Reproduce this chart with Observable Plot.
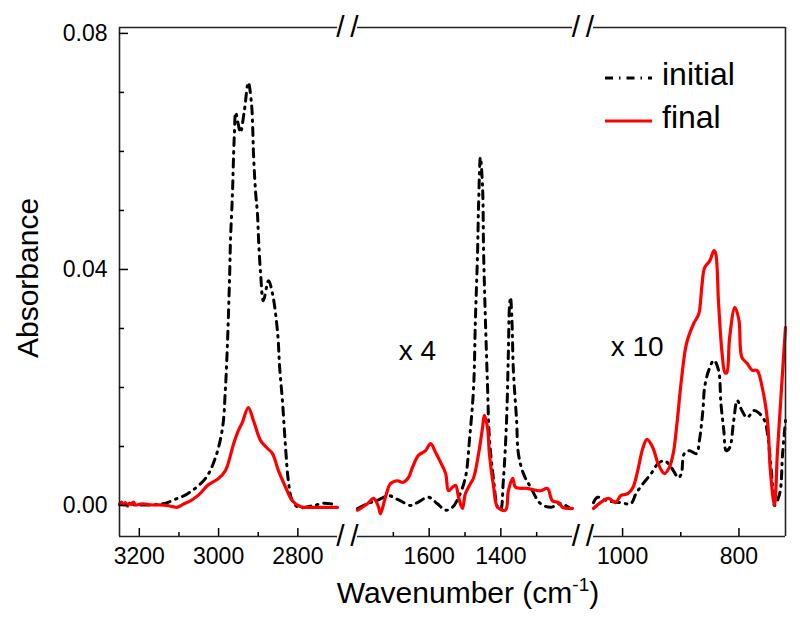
<!DOCTYPE html>
<html><head><meta charset="utf-8">
<script src="https://cdn.jsdelivr.net/npm/d3@7"></script>
<script src="https://cdn.jsdelivr.net/npm/@observablehq/plot@0.6"></script>
<style>body{margin:0;background:#fff;} svg{display:block}</style>
</head><body><div id="chart"></div>
<script>
// ---- data: [wavenumber (cm-1), displayed absorbance] ----
// C-H stretching region (as measured)
const initialCH = [[3250,0.0002],[3200,0.0001],[3150,0.0002],[3129,0.0005],[3104,0.0012],[3078,0.002],[3033,0.0046],[3008,0.0081],[2990,0.0132],[2983,0.0195],[2978,0.0268],[2972,0.0393],[2970,0.0449],[2965,0.0529],[2962,0.0597],[2960,0.0631],[2957,0.0666],[2950,0.0645],[2945,0.0632],[2935,0.0669],[2925,0.0717],[2917,0.0681],[2914,0.0641],[2912,0.0597],[2907,0.0534],[2902,0.0495],[2899,0.0449],[2894,0.0393],[2887,0.0347],[2874,0.0381],[2864,0.0359],[2851,0.0292],[2846,0.0234],[2839,0.0178],[2831,0.0098],[2824,0.0042],[2814,0.0008],[2798,-0.0003],[2760,0],[2735,0.0004],[2700,0.0001]];
const finalCH = [[3250,0.0002],[3245,0.0006],[3240,0.0001],[3235,0.0005],[3230,-0.0001],[3225,0.0004],[3220,0.0002],[3215,0.0006],[3210,0.0001],[3200,0.0002],[3190,0.0003],[3170,0.0001],[3150,0.0001],[3130,0],[3115,-0.0002],[3104,-0.0003],[3090,0.0002],[3071,0.0008],[3050,0.0018],[3028,0.0034],[3000,0.0046],[2983,0.0059],[2972,0.008],[2965,0.0098],[2952,0.0124],[2940,0.0141],[2925,0.0166],[2912,0.0144],[2894,0.011],[2877,0.0097],[2864,0.0088],[2849,0.0059],[2831,0.0031],[2814,0.0008],[2793,-0.0002],[2750,-0.0003],[2700,-0.0003]];
// 1800-1200 region (shown x 4)
const initialMid = [[1800,-0.0005],[1772,0.0003],[1740,0.001],[1713,0.0017],[1695,0.0012],[1680,0.0008],[1652,0],[1633,0.0005],[1602,0.0014],[1577,0.0003],[1554,-0.0008],[1535,-0.0003],[1518,0.0014],[1499,0.0047],[1487,0.0115],[1476,0.02],[1471,0.0314],[1465,0.0427],[1462,0.0512],[1457,0.059],[1451,0.0539],[1448,0.0427],[1443,0.0314],[1437,0.02],[1432,0.0115],[1420,0.0042],[1409,-0.0003],[1401,-0.0008],[1393,0.0042],[1384,0.0144],[1379,0.0258],[1376,0.0336],[1373,0.0353],[1369,0.0314],[1365,0.0229],[1356,0.0144],[1351,0.0088],[1337,0.0054],[1317,0.0031],[1289,0.0003],[1261,-0.0003],[1233,0.0003],[1206,-0.0005]];
const finalMid = [[1800,-0.0008],[1772,0.0003],[1755,0.0012],[1741,-0.0003],[1736,-0.0014],[1722,0.0014],[1708,0.0037],[1688,0.0042],[1674,0.0039],[1658,0.0047],[1647,0.0064],[1630,0.0085],[1610,0.0093],[1596,0.0105],[1582,0.009],[1568,0.0073],[1554,0.0054],[1546,0.0025],[1535,0.0031],[1526,0.0034],[1518,0.0014],[1507,-0.0005],[1499,0.002],[1485,0.0037],[1476,0.0047],[1462,0.0088],[1451,0.0132],[1446,0.0153],[1437,0.0132],[1432,0.0088],[1420,0.0031],[1409,-0.0003],[1387,-0.0008],[1379,0.0025],[1367,0.0046],[1359,0.0031],[1326,0.0029],[1289,0.0025],[1270,0.0029],[1256,0.0008],[1239,0.0005],[1228,-0.0003],[1211,-0.0005],[1200,-0.0005]];
// 1050-720 region (shown x 10)
const initialLow = [[1050,0.0005],[1043,0.0014],[1026,0.0008],[1003,0.0005],[986,0.0003],[977,0.002],[965,0.0037],[951,0.0054],[939,0.0071],[928,0.0076],[916,0.0064],[904,0.0047],[899,0.0054],[894,0.0088],[885,0.0093],[873,0.0088],[868,0.011],[862,0.0161],[859,0.02],[852,0.0229],[843,0.0246],[835,0.0229],[831,0.0173],[826,0.0127],[822,0.0093],[816,0.0098],[809,0.0144],[803,0.0178],[795,0.0161],[786,0.0149],[774,0.0161],[765,0.0156],[756,0.0144],[751,0.0122],[746,0.0076],[741,0.002],[739,0],[730,0.002],[725,0.0088],[720,0.0144]];
const finalLow = [[1050,-0.0005],[1038,0.0005],[1024,0.0012],[1012,0.0005],[1003,0.0017],[991,0.002],[982,0.0031],[974,0.0059],[965,0.0098],[958,0.0112],[948,0.0098],[939,0.0071],[928,0.0054],[920,0.0064],[913,0.0088],[906,0.0144],[899,0.0212],[890,0.0275],[878,0.0308],[869,0.0325],[864,0.0369],[859,0.0403],[850,0.0415],[843,0.0432],[840,0.0427],[835,0.0342],[829,0.0258],[824,0.0225],[821,0.0225],[816,0.0285],[807,0.0336],[800,0.0314],[795,0.0251],[786,0.0241],[777,0.0229],[769,0.0229],[760,0.02],[751,0.0144],[746,0.0059],[739,0],[734,0.0088],[729,0.0166],[720,0.0302]];

const seriesNames = ["initial", "final"];
const segStarts = [3250, 1800, 1050];
const segEnds = [2700, 1200, 720];
const gapMids = [2250, 1125];
const xMajorTicks = [3200, 3000, 2800, 1600, 1400, 1000, 800];
const xMinorTicks = [3100, 2900, 1700, 1500, 1300, 900];
const yMajorTicks = [0, 0.04, 0.08];
const yMinorTicks = [0.01, 0.02, 0.03, 0.05, 0.06, 0.07];
const noteLabels = ["x 4", "x 10"];
const noteWn = [1633, 975];
const noteAbs = [0.0262, 0.0268];

// ---- table ----
const rows = [];
[[initialCH, 0, 0], [finalCH, 1, 0], [initialMid, 0, 1], [finalMid, 1, 1], [initialLow, 0, 2], [finalLow, 1, 2]]
  .forEach(([arr, s, g]) => arr.forEach(([wn, a]) => rows.push({wn, abs: a, series: seriesNames[s], seg: g})));
const segs = segStarts.map((s, i) => ({from: s, to: segEnds[i]}));
const notes = noteLabels.map((t, i) => ({t, wn: noteWn[i], a: noteAbs[i]}));

// broken axis: wavenumber -> axis position (segments of 218, 215, 192 units, gaps of 20 and 21)
const breakAxis = d3.scaleLinear()
  .domain([3250, 2700, 1800, 1200, 1050, 720])
  .range([0, 218, 238, 453, 474, 666]);
const wnFormat = u => String(Math.round(breakAxis.invert(u)));

const yMin = -0.00525, yMax = 0.081;
const font = "'Liberation Sans', Arial, sans-serif";
const slash = {text: () => "/", fontSize: 30, fill: "#000"};

const plot = Plot.plot({
  width: 800, height: 622,
  marginLeft: 119, marginRight: 15, marginTop: 27, marginBottom: 86,
  style: {fontFamily: font, fontSize: "23px", color: "#000", background: "#fff", overflow: "visible"},
  x: {transform: breakAxis, domain: [0, 666]},
  y: {domain: [yMin, yMax]},
  marks: [
    Plot.line(rows.filter(d => d.series === "initial"), {x: "wn", y: "abs", z: "seg", stroke: "#000", strokeWidth: 3, strokeDasharray: "8,6,1.5,6", curve: "catmull-rom"}),
    Plot.line(rows.filter(d => d.series === "final"), {x: "wn", y: "abs", z: "seg", stroke: "#ff0000", strokeWidth: 3.2, curve: "catmull-rom"}),
    Plot.ruleY(segs, {y: () => yMax, x1: "from", x2: "to", stroke: "#222", strokeWidth: 1.6}),
    Plot.ruleY(segs, {y: () => yMin, x1: "from", x2: "to", stroke: "#222", strokeWidth: 1.6}),
    Plot.ruleX([segStarts[0], segEnds[2]], {stroke: "#222", strokeWidth: 1.6}),
    Plot.axisY({ticks: yMajorTicks, tickSize: -9, tickFormat: () => "", label: null, strokeWidth: 1.5}),
    Plot.axisY({ticks: yMinorTicks, tickSize: -5, tickFormat: () => "", label: null, strokeWidth: 1.5}),
    Plot.axisY({ticks: yMajorTicks, tickSize: 0, tickPadding: 12, tickFormat: d3.format(".2f"), label: null}),
    Plot.axisX({ticks: xMajorTicks.map(breakAxis), tickSize: -8, tickFormat: () => "", label: null, strokeWidth: 1.5}),
    Plot.axisX({ticks: xMinorTicks.map(breakAxis), tickSize: -4, tickFormat: () => "", label: null, strokeWidth: 1.5}),
    Plot.axisX({ticks: xMajorTicks.map(breakAxis), tickSize: 0, tickPadding: 11, tickFormat: wnFormat, label: null}),
    Plot.text(gapMids, {x: d => d, y: () => yMax, dx: -7, ...slash}),
    Plot.text(gapMids, {x: d => d, y: () => yMax, dx: 7, ...slash}),
    Plot.text(gapMids, {x: d => d, y: () => yMin, dx: -7, ...slash}),
    Plot.text(gapMids, {x: d => d, y: () => yMin, dx: 7, ...slash}),
    Plot.text(notes, {x: "wn", y: "a", text: "t", fontSize: 28, fill: "#000"})
  ]
});
document.getElementById("chart").appendChild(plot);

// axis titles and legend
const svg = d3.select(plot);
const xt = svg.append("text").attr("x", 468).attr("y", 603).attr("text-anchor", "middle")
  .attr("font-family", font).attr("font-size", 30).attr("fill", "#000");
xt.append("tspan").text("Wavenumber (cm");
xt.append("tspan").attr("font-size", 19).attr("dy", -12).text("-1");
xt.append("tspan").attr("dy", 12).text(")");
svg.append("text").attr("transform", "translate(38,278) rotate(-90)").attr("text-anchor", "middle")
  .attr("font-family", font).attr("font-size", 30).attr("fill", "#000").text("Absorbance");

const leg = svg.append("g");
const legItems = [
  {name: seriesNames[0], y: 78, stroke: "#000", dash: "8,6,1.5,6"},
  {name: seriesNames[1], y: 121, stroke: "#ff0000", dash: null}
];
legItems.forEach(it => {
  leg.append("line").attr("x1", 605).attr("x2", 652).attr("y1", it.y).attr("y2", it.y)
    .attr("stroke", it.stroke).attr("stroke-width", 3).attr("stroke-dasharray", it.dash);
  leg.append("text").attr("x", 662).attr("y", it.y + 7).attr("text-anchor", "start").attr("font-family", font)
    .attr("font-size", 32).attr("fill", "#000").text(it.name);
});
</script>
</body></html>
